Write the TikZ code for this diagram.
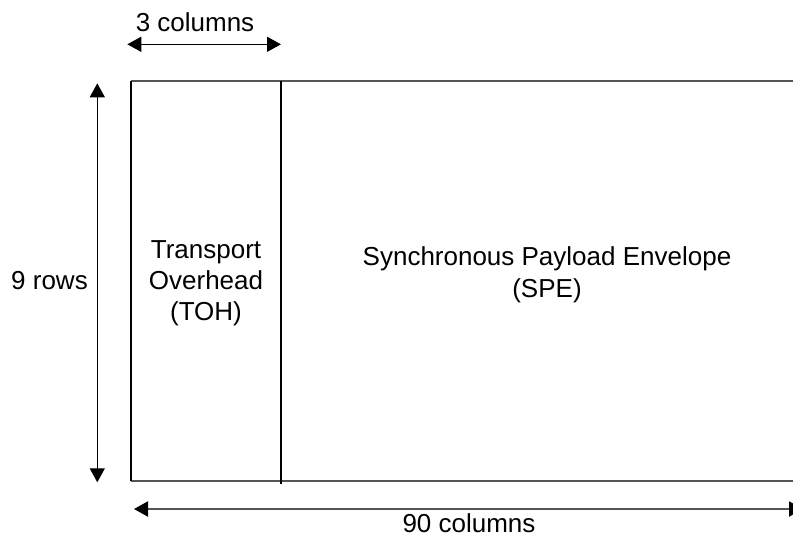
\documentclass[tikz,border=0pt]{standalone}
\usepackage{fontspec}
\setmainfont{Liberation Sans}
\usetikzlibrary{arrows.meta}
\definecolor{lgray}{HTML}{555555}
\tikzset{
  lbl/.style={inner sep=0pt, anchor=base, align=center, font=\fontsize{19.5}{23.3}\selectfont},
  dimarrow/.style={line width=1pt, {Triangle[length=10.5pt,width=11.25pt,color=black]}-{Triangle[length=10.5pt,width=11.25pt,color=black]}},
  graydim/.style={dimarrow, draw=lgray, line width=1.5pt},
  blk/.style={line width=1pt, draw=black},
  gry/.style={line width=1.5pt, draw=lgray}
}
\begin{document}
\begin{tikzpicture}[x=0.75pt,y=-0.75pt]
\useasboundingbox (0,0) rectangle (793,537);
% frame
\coordinate (tl) at (131,81);
\coordinate (bl) at (131,481);
\coordinate (tr) at (800,81);
\coordinate (br) at (800,481);
\coordinate (dt) at (281,81);
\coordinate (db) at (281,483.5);
\draw[gry] (tl) -- (tr);
\draw[gry] (bl) -- (br);
\draw[blk] (tl) -- (bl);
\draw[blk] (dt) -- (db);
% dimension arrows
\coordinate (c3l) at (127.3,44.3);
\coordinate (c3r) at (281,44.3);
\draw[dimarrow] (c3l) -- (c3r);
\coordinate (r9t) at (97.3,83.3);
\coordinate (r9b) at (97.3,482.3);
\draw[dimarrow] (r9t) -- (r9b);
\coordinate (c90l) at (134,509);
\coordinate (c90r) at (803,509);
\draw[graydim] (c90l) -- (c90r);
% labels
\node[lbl] (three) at (195,31.7) {3 columns};
\node[lbl] (nine) at (49.5,289.3) {9 rows};
\node[lbl] (toh) at (206,320.3) {Transport\\Overhead\\(TOH)};
\node[lbl] (spe) at (547,297) {Synchronous Payload Envelope\\(SPE)};
\node[lbl] (ninety) at (469,532.3) {90 columns};
\end{tikzpicture}
\end{document}
